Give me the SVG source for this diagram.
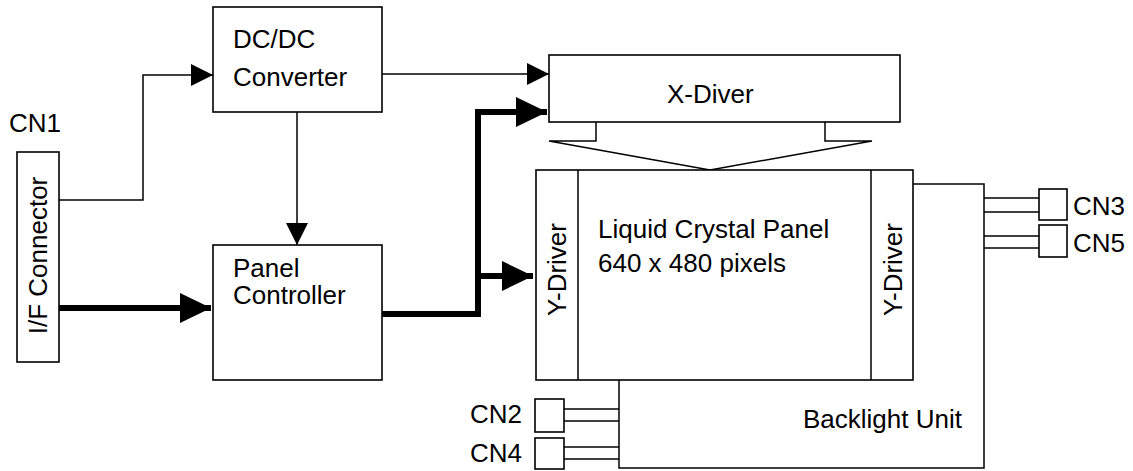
<svg xmlns="http://www.w3.org/2000/svg" width="1133" height="471" viewBox="0 0 1133 471">
<style>
.box{fill:#fff;stroke:#000;stroke-width:1.6}
.ln{fill:none;stroke:#000;stroke-width:1.5}
.thick{fill:none;stroke:#000;stroke-width:6}
text{font-family:"Liberation Sans",Arial,sans-serif;font-size:26px;fill:#000}
</style>
<defs>
<marker id="aThin" markerUnits="userSpaceOnUse" markerWidth="22" markerHeight="22" viewBox="0 0 20 20" refX="20" refY="10" orient="auto">
<path d="M0,0 L20,10 L0,20 Z" fill="#000"/>
</marker>
<marker id="aThick" markerUnits="userSpaceOnUse" markerWidth="32" markerHeight="30" viewBox="0 0 31 30" refX="31" refY="15" orient="auto">
<path d="M0,0 L31,15 L0,30 Z" fill="#000"/>
</marker>
</defs>
<g id="connectors">
<path class="ln" d="M59,200 H143 V75 H213" marker-end="url(#aThin)"/>
<path class="ln" d="M382,74 H549" marker-end="url(#aThin)"/>
<path class="ln" d="M297,112 V245" marker-end="url(#aThin)"/>
<path class="thick" d="M59,308 H211" marker-end="url(#aThick)"/>
<path class="thick" d="M382,314 H478 V112 H547" marker-end="url(#aThick)"/>
<path class="thick" d="M478,276 H533" marker-end="url(#aThick)"/>
<path class="ln" d="M984,198 H1039 M984,212 H1039 M984,236 H1039 M984,248 H1039"/>
<path class="ln" d="M564,409 H619 M564,421 H619 M564,447 H619 M564,459 H619"/>
</g>
<g id="cn1">
<text x="9" y="132">CN1</text>
</g>
<g id="if-connector">
<rect class="box" x="17" y="152" width="42" height="210"/>
<text transform="translate(46.5,255.5) rotate(-90)" text-anchor="middle">I/F Connector</text>
</g>
<g id="dcdc">
<rect class="box" x="213" y="7" width="169" height="105"/>
<text x="233" y="48">DC/DC</text>
<text x="233" y="86">Converter</text>
</g>
<g id="panel-controller">
<rect class="box" x="213" y="245" width="169" height="135"/>
<text x="233" y="277">Panel</text>
<text x="233" y="304">Controller</text>
</g>
<g id="x-driver">
<rect class="box" x="549" y="55" width="351" height="67"/>
<text x="667" y="103">X-Diver</text>
<path class="ln" d="M596,122 V141 H549 L710,170 L872,141 H825 V122"/>
</g>
<g id="backlight">
<path class="ln" d="M913,184 H984 V468 H619 V380"/>
<text x="803" y="428">Backlight Unit</text>
</g>
<g id="lcd-panel">
<rect class="box" x="536" y="170" width="377" height="210"/>
<path class="ln" d="M578,170 V380 M871,170 V380"/>
<text transform="translate(565.5,269.5) rotate(-90)" text-anchor="middle">Y-Driver</text>
<text transform="translate(901.5,269.5) rotate(-90)" text-anchor="middle">Y-Driver</text>
<text x="598" y="238">Liquid Crystal Panel</text>
<text x="598" y="272">640 x 480 pixels</text>
</g>
<g id="cn3">
<rect class="box" x="1039" y="189" width="28" height="31"/>
<text x="1073" y="215">CN3</text>
</g>
<g id="cn5">
<rect class="box" x="1039" y="225" width="28" height="32"/>
<text x="1073" y="252">CN5</text>
</g>
<g id="cn2">
<rect class="box" x="535" y="399" width="29" height="33"/>
<text x="522" y="423" text-anchor="end">CN2</text>
</g>
<g id="cn4">
<rect class="box" x="535" y="438" width="29" height="31"/>
<text x="522" y="462" text-anchor="end">CN4</text>
</g>
</svg>
